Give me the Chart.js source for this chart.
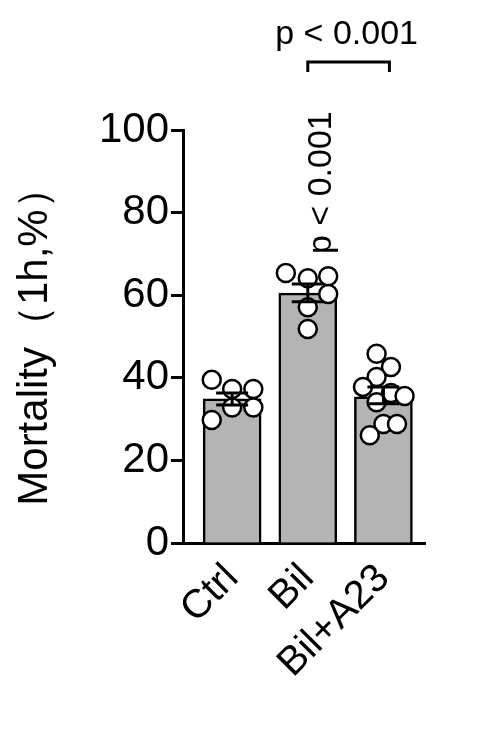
<!DOCTYPE html>
<html><head><meta charset="utf-8">
<script src="https://cdn.jsdelivr.net/npm/chart.js@4"></script>
<style>body{margin:0;background:#fff}</style>
</head><body>
<canvas id="c" width="499" height="730"></canvas>
<script>
const groups = ['Ctrl', 'Bil', 'Bil+A23'];
const means = [34.9, 60.5, 35.4];
const semLow = [33.4, 58.4, 33.7];
const semHigh = [36.3, 62.7, 37.8];
const ctrlPts = [[-0.27, 39.5], [0, 37.3], [0.28, 37.3], [0, 32.8], [0.28, 32.8], [-0.27, 29.8]];
const bilPts = [[-0.29, 65.4], [0, 64.1], [0.27, 64.6], [0.27, 60.3], [0, 57.1], [0, 51.8]];
const a23Pts = [[-0.09, 45.8], [0.1, 42.6], [-0.09, 40.2], [-0.27, 37.8], [0.1, 36.3], [0.28, 35.6],
  [-0.09, 34.1], [0, 28.8], [0.18, 28.8], [-0.18, 26.1]];
const yTicks = [0, 20, 40, 60, 80, 100];

const pts = [ctrlPts, bilPts, a23Pts].flatMap((g, i) => g.map(p => ({x: i + p[0], y: p[1]})));
const FONT = 'Arial, "Liberation Sans"';

const extras = {
  id: 'extras',
  afterDatasetsDraw(chart) {
    const {ctx, scales: {x, y}} = chart;
    ctx.save();
    ctx.strokeStyle = '#000'; ctx.lineWidth = 3;
    // SEM bars
    means.forEach((m, i) => {
      const cx = x.getPixelForValue(i);
      ctx.beginPath();
      ctx.moveTo(cx, y.getPixelForValue(semLow[i])); ctx.lineTo(cx, y.getPixelForValue(semHigh[i]));
      [semLow[i], semHigh[i]].forEach(v => {
        ctx.moveTo(cx - 16, y.getPixelForValue(v)); ctx.lineTo(cx + 16, y.getPixelForValue(v));
      });
      ctx.stroke();
    });
    ctx.restore();
  },
  afterDraw(chart) {
    const {ctx, scales: {x}} = chart;
    ctx.save();
    ctx.fillStyle = '#000';
    ctx.font = '34px ' + FONT;
    ctx.translate(x.getPixelForValue(1) + 14, 254);
    ctx.rotate(-Math.PI / 2);
    ctx.textAlign = 'left'; ctx.textBaseline = 'middle';
    ctx.fillText('p < 0.001', 0, 0);
    ctx.restore();
    ctx.save();
    ctx.fillStyle = '#000'; ctx.strokeStyle = '#000'; ctx.lineWidth = 3;
    ctx.font = '34px ' + FONT;
    const x1 = x.getPixelForValue(1), x2 = x.getPixelForValue(2) + 6;
    ctx.beginPath();
    ctx.moveTo(x1, 72); ctx.lineTo(x1, 62); ctx.lineTo(x2, 62); ctx.lineTo(x2, 72);
    ctx.stroke();
    ctx.textAlign = 'center'; ctx.textBaseline = 'alphabetic';
    ctx.fillText('p < 0.001', (x1 + x2) / 2 - 2, 44);
    ctx.restore();
  }
};

new Chart(document.getElementById('c'), {
  data: {
    datasets: [
      {type: 'bar', data: means.map((m, i) => ({x: i, y: m})), backgroundColor: '#b4b4b4',
        borderColor: '#000', borderWidth: 2.5, barThickness: 58, order: 2},
      {type: 'scatter', data: pts, pointRadius: 9, pointBackgroundColor: '#fff',
        pointBorderColor: '#000', pointBorderWidth: 2.5, order: 1}
    ]
  },
  options: {
    responsive: false, animation: false,
    layout: {padding: {top: 130, right: 74, left: 10, bottom: 0}},
    plugins: {legend: {display: false}, tooltip: {enabled: false}},
    scales: {
      x: {type: 'linear', min: -0.65, max: 2.55, offset: false,
        afterBuildTicks: s => { s.ticks = groups.map((g, i) => ({value: i})); },
        afterFit: s => { s.height = 187; },
        grid: {display: false, drawOnChartArea: false, tickLength: 12, tickWidth: 3, tickColor: '#000'},
        border: {color: '#000', width: 3},
        ticks: {callback: v => groups[v], color: '#000', minRotation: 45, maxRotation: 45, padding: 0,
          font: {size: 40, family: FONT}}},
      y: {min: 0, max: 100,
        afterBuildTicks: s => { s.ticks = yTicks.map(v => ({value: v})); },
        afterFit: s => { s.width = 173; },
        grid: {drawOnChartArea: false, tickLength: 12, tickWidth: 3, tickColor: '#000'},
        border: {color: '#000', width: 3},
        ticks: {color: '#000', font: {size: 42, family: FONT}, padding: 2},
        title: {display: true, text: 'Mortality（1h,%）', color: '#000',
          font: {size: 42, family: FONT}, padding: 0}}
    }
  },
  plugins: [extras]
});
</script>
</body></html>
